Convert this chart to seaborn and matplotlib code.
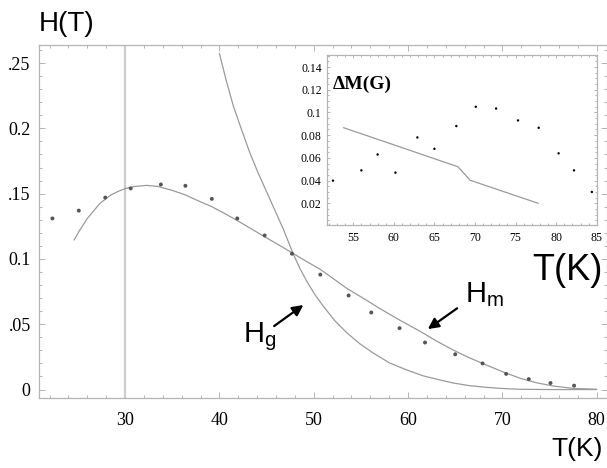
import matplotlib
matplotlib.use("Agg")
import matplotlib.pyplot as plt
from matplotlib.ticker import MultipleLocator, FixedLocator, FixedFormatter
import seaborn as sns

# Measured H(T) points
t_meas = [22.3, 25.1, 27.9, 30.6, 33.8, 36.4, 39.2, 41.9, 44.8, 47.7, 50.7,
          53.7, 56.1, 59.1, 61.8, 65.0, 67.9, 70.4, 72.8, 75.1, 77.6]
h_meas = [0.131, 0.137, 0.147, 0.154, 0.157, 0.156, 0.146, 0.131, 0.118, 0.104,
          0.088, 0.072, 0.059, 0.047, 0.036, 0.027, 0.020, 0.012, 0.008, 0.005, 0.003]

# H_m model curve
t_hm = [24.6, 25.2, 26.0, 26.7, 27.35, 28.5, 29.3, 30.0, 31.0, 32.3, 33.5, 35.0,
        36.4, 38.0, 39.2, 40.5, 41.8, 43.3, 44.8, 46.3, 47.8, 49.2, 50.7, 52.1,
        53.5, 55.3, 57.0, 59.1, 61.3, 63.0, 64.8, 66.5, 68.3, 70.1, 71.9, 73.6,
        75.4, 77.5, 80.0]
h_hm = [0.1145, 0.122, 0.131, 0.137, 0.1426, 0.149, 0.1518, 0.1538, 0.1555,
        0.1563, 0.1555, 0.1525, 0.149, 0.1437, 0.140, 0.135, 0.1298, 0.1234,
        0.117, 0.1107, 0.1043, 0.0982, 0.092, 0.0848, 0.0775, 0.0697, 0.0621,
        0.0532, 0.0445, 0.0372, 0.0302, 0.0243, 0.0188, 0.0134, 0.0086, 0.0052,
        0.0027, 0.0009, 0.0002]

# H_g model curve
t_hg = [40.0, 40.75, 41.5, 42.4, 43.25, 44.1, 45.0, 45.9, 46.8, 47.8, 48.55,
        49.3, 50.1, 51.0, 52.2, 53.5, 54.9, 56.3, 58.0, 59.9, 61.6, 63.4, 64.8,
        66.5, 68.3, 70.0, 71.9, 75.0, 80.0]
h_hg = [0.2574, 0.236, 0.2166, 0.198, 0.1809, 0.166, 0.1515, 0.137, 0.1225,
        0.1043, 0.0925, 0.0825, 0.073, 0.064, 0.053, 0.0435, 0.035, 0.028,
        0.0205, 0.0149, 0.0105, 0.0073, 0.005, 0.003, 0.0017, 0.0008, 0.0002,
        0.0, 0.0]

# Inset: Delta M(G) points and line
t_dm = [52.5, 56.0, 58.0, 60.2, 62.9, 65.0, 67.7, 70.1, 72.6, 75.3, 77.85, 80.3, 82.2, 84.4]
dm = [0.040, 0.049, 0.063, 0.047, 0.078, 0.068, 0.088, 0.105, 0.1035, 0.093,
      0.0865, 0.064, 0.049, 0.030]
t_dm_line = [53.8, 67.9, 69.4, 77.8]
dm_line = [0.0866, 0.0522, 0.0403, 0.020]

main_xticks = [30, 40, 50, 60, 70, 80]
main_yticks = [0.0, 0.05, 0.10, 0.15, 0.20, 0.25]
main_ylabels = ["0", ".05", "0.1", ".15", "0.2", ".25"]
inset_xticks = [55, 60, 65, 70, 75, 80, 85]
inset_yticks = [0.02, 0.04, 0.06, 0.08, 0.10, 0.12, 0.14]
inset_ylabels = ["0.02", "0.04", "0.06", "0.08", "0.1", "0.12", "0.14"]

sns.set_style("ticks")
plt.rcParams["font.family"] = ["Liberation Serif", "DejaVu Serif"]
plt.rcParams["text.color"] = "black"
SANS = ["Liberation Sans", "DejaVu Sans"]
plt.rcParams["mathtext.fontset"] = "custom"
plt.rcParams["mathtext.rm"] = "Liberation Sans"

FRAME = "#b4b4b4"
CURVE = "#9a9a9a"

fig = plt.figure(figsize=(6.07, 4.68), dpi=100)
W, H = 607.0, 468.0


def frame_style(a, major_len, minor_len):
    for s in a.spines.values():
        s.set_color(FRAME)
        s.set_linewidth(0.9)
    a.tick_params(which="both", direction="in", top=True, right=True,
                  color=FRAME, width=0.7)
    a.tick_params(which="major", length=major_len)
    a.tick_params(which="minor", length=minor_len)


# ---- main axes ----
ax = fig.add_axes([39 / W, (H - 398.3) / H, (W - 39) / W, (398.3 - 45) / H])
ax.set_xlim(20.88, 81.09)
ax.set_ylim(-0.0067, 0.2638)

ax.axvline(30, color="#cdcdcd", lw=1.6, zorder=1)

sns.lineplot(x=t_hm, y=h_hm, ax=ax, color=CURVE, lw=0.9, sort=False,
             estimator=None, zorder=2)
sns.lineplot(x=t_hg, y=h_hg, ax=ax, color=CURVE, lw=0.9, sort=False,
             estimator=None, zorder=2)
sns.scatterplot(x=t_meas, y=h_meas, ax=ax, color="#555555", s=8,
                edgecolor="none", zorder=3)

frame_style(ax, 4, 2.2)
ax.xaxis.set_major_locator(FixedLocator(main_xticks))
ax.xaxis.set_minor_locator(MultipleLocator(2))
ax.yaxis.set_major_locator(FixedLocator(main_yticks))
ax.yaxis.set_major_formatter(FixedFormatter(main_ylabels))
ax.yaxis.set_minor_locator(MultipleLocator(0.01))
ax.tick_params(axis="both", labelsize=13, labelcolor="black")
ax.tick_params(axis="x", pad=10)
ax.tick_params(axis="y", pad=6)
ax.set_xlabel("")
ax.set_ylabel("")

# curve labels with arrows
ax.text(42.5, 0.0366, "H$_\\mathregular{g}$", family=SANS, fontsize=21,
        color="black", ha="left", va="baseline")
ax.annotate("", xy=(48.9, 0.0647), xytext=(45.8, 0.0486),
            arrowprops=dict(arrowstyle="-|>", color="black", lw=1.6,
                            mutation_scale=16, shrinkA=0, shrinkB=0))
ax.text(66.0, 0.0672, "H$_\\mathregular{m}$", family=SANS, fontsize=21,
        color="black", ha="left", va="baseline")
ax.annotate("", xy=(62.1, 0.0463), xytext=(65.2, 0.0622),
            arrowprops=dict(arrowstyle="-|>", color="black", lw=1.6,
                            mutation_scale=16, shrinkA=0, shrinkB=0))

fig.text(39 / W, (H - 31) / H, "H(T)", family=SANS, fontsize=20,
         ha="left", va="baseline")
fig.text(603 / W, (H - 456) / H, "T(K)", family=SANS, fontsize=19,
         ha="right", va="baseline")

# ---- inset ----
axi = fig.add_axes([327.3 / W, (H - 225) / H, 270 / W, 170 / H])
axi.set_xlim(51.8, 85.07)
axi.set_ylim(0.0009, 0.1506)
axi.set_facecolor("white")

sns.lineplot(x=t_dm_line, y=dm_line, ax=axi, color=CURVE, lw=0.9, sort=False,
             estimator=None)
sns.scatterplot(x=t_dm, y=dm, ax=axi, color="black", s=3, edgecolor="none")

frame_style(axi, 2.5, 1.5)
axi.xaxis.set_major_locator(FixedLocator(inset_xticks))
axi.xaxis.set_minor_locator(MultipleLocator(1))
axi.yaxis.set_major_locator(FixedLocator(inset_yticks))
axi.yaxis.set_major_formatter(FixedFormatter(inset_ylabels))
axi.yaxis.set_minor_locator(MultipleLocator(0.005))
axi.tick_params(axis="both", labelsize=8.5, labelcolor="black")
axi.tick_params(axis="x", pad=5)
axi.tick_params(axis="y", pad=4)
axi.set_xlabel("")
axi.set_ylabel("")

axi.text(0.02, 0.83, "\u0394M(G)", transform=axi.transAxes, fontsize=14,
         fontweight="bold", family=["Liberation Serif", "DejaVu Serif"],
         ha="left", va="center")

fig.text(603 / W, (H - 280) / H, "T(K)", family=SANS, fontsize=26,
         ha="right", va="baseline")

fig.savefig("out.png", dpi=100)
